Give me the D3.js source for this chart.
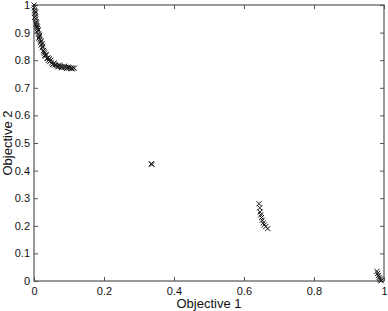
<!DOCTYPE html>
<html>
<head>
<meta charset="utf-8">
<script src="https://cdn.jsdelivr.net/npm/d3@7"></script>
<style>
  body { margin: 0; background: #fff; }
  text { font-family: "Liberation Sans", Arial, sans-serif; fill: #111; }
</style>
</head>
<body>
<svg id="chart" width="388" height="311"></svg>
<script>
// objective values
const front1 = [
    [0.000, 1.000], [0.001, 0.990], [0.002, 0.980], [0.003, 0.970], [0.004, 0.960],
    [0.005, 0.950], [0.006, 0.940], [0.007, 0.935], [0.008, 0.925], [0.010, 0.915],
    [0.011, 0.905], [0.013, 0.895], [0.015, 0.885], [0.017, 0.875], [0.019, 0.865],
    [0.021, 0.855], [0.024, 0.845], [0.027, 0.835], [0.030, 0.825], [0.033, 0.815],
    [0.037, 0.807], [0.041, 0.800], [0.045, 0.795], [0.050, 0.790], [0.055, 0.786],
    [0.060, 0.783], [0.065, 0.780], [0.070, 0.778], [0.075, 0.777], [0.080, 0.776],
    [0.085, 0.775], [0.090, 0.774], [0.095, 0.773], [0.100, 0.772], [0.105, 0.772],
    [0.110, 0.771], [0.115, 0.771],
    [0.004, 0.975], [0.009, 0.920], [0.012, 0.910], [0.020, 0.870], [0.025, 0.850],
    [0.035, 0.820], [0.048, 0.800], [0.058, 0.790], [0.072, 0.782], [0.088, 0.778],
    [0.098, 0.775], [0.002, 0.955], [0.016, 0.890], [0.028, 0.830], [0.044, 0.805],
    [0.006, 0.930], [0.014, 0.880], [0.023, 0.860], [0.031, 0.818], [0.040, 0.808],
    [0.053, 0.784], [0.068, 0.776], [0.078, 0.773], [0.093, 0.770], [0.108, 0.769]
];
const front2 = [[0.335, 0.425], [0.337, 0.422]];
const front3 = [
    [0.643, 0.280], [0.645, 0.265], [0.646, 0.250], [0.648, 0.240], [0.650, 0.230],
    [0.652, 0.220], [0.655, 0.210], [0.658, 0.203], [0.662, 0.197], [0.668, 0.190]
];
const front4 = [
    [0.980, 0.035], [0.982, 0.028], [0.984, 0.020], [0.986, 0.013], [0.988, 0.008],
    [0.990, 0.004], [0.992, 0.001]
];
const xTicks = [0, 0.2, 0.4, 0.6, 0.8, 1];
const yTicks = [0, 0.1, 0.2, 0.3, 0.4, 0.5, 0.6, 0.7, 0.8, 0.9, 1];

const svg = d3.select('#chart');
const mLeft = 34, mRight = 384, mTop = 5, mBottom = 281;
const AXIS_COLOR = '#555';

let x = d3.scaleLinear().domain([0, 1]).range([mLeft, mRight]);
let y = d3.scaleLinear().domain([0, 1]).range([mBottom, mTop]);

function fmt(d) { return d3.format('~g')(d); }

// bottom & left axes with inward ticks
let xAxis = svg.append('g')
    .attr('transform', `translate(0,${mBottom})`)
    .call(d3.axisBottom(x).tickValues(xTicks).tickSize(-4).tickPadding(7).tickFormat(fmt));
let yAxis = svg.append('g')
    .attr('transform', `translate(${mLeft},0)`)
    .call(d3.axisLeft(y).tickValues(yTicks).tickSize(-4).tickPadding(4).tickFormat(fmt));
// top & right axes, ticks only
let xTop = svg.append('g')
    .attr('transform', `translate(0,${mTop})`)
    .call(d3.axisTop(x).tickValues(xTicks).tickSize(-4).tickFormat(''));
let yRight = svg.append('g')
    .attr('transform', `translate(${mRight},0)`)
    .call(d3.axisRight(y).tickValues(yTicks).tickSize(-4).tickFormat(''));

[xAxis, yAxis, xTop, yRight].forEach(g => {
    g.select('.domain').remove();
    g.selectAll('line').attr('stroke', AXIS_COLOR);
    g.selectAll('text').style('font-size', '11px').attr('fill', '#111');
});
xAxis.selectAll('text').attr('dy', '0.6em');

svg.append('rect')
    .attr('x', mLeft).attr('y', mTop)
    .attr('width', mRight - mLeft).attr('height', mBottom - mTop)
    .attr('fill', 'none')
    .attr('stroke', AXIS_COLOR)
    .attr('stroke-width', 1.2);

// markers
let allPoints = [...front1, ...front2, ...front3, ...front4];
const S = 2.6;
svg.append('g').selectAll('path.mark').data(allPoints)
    .enter()
    .append('path')
    .classed('mark', true)
    .attr('d', d => {
        let px = x(d[0]), py = y(d[1]);
        return `M${px - S},${py - S}L${px + S},${py + S}M${px - S},${py + S}L${px + S},${py - S}`;
    })
    .attr('stroke', '#1a1a1a')
    .attr('stroke-width', 1)
    .attr('fill', 'none');

// axis titles
svg.append('text')
    .attr('x', (mLeft + mRight) / 2)
    .attr('y', 308)
    .attr('text-anchor', 'middle')
    .style('font-size', '13px')
    .text('Objective 1');
svg.append('text')
    .attr('transform', `translate(12,${(mTop + mBottom) / 2}) rotate(-90)`)
    .attr('text-anchor', 'middle')
    .style('font-size', '13px')
    .text('Objective 2');
</script>
</body>
</html>
